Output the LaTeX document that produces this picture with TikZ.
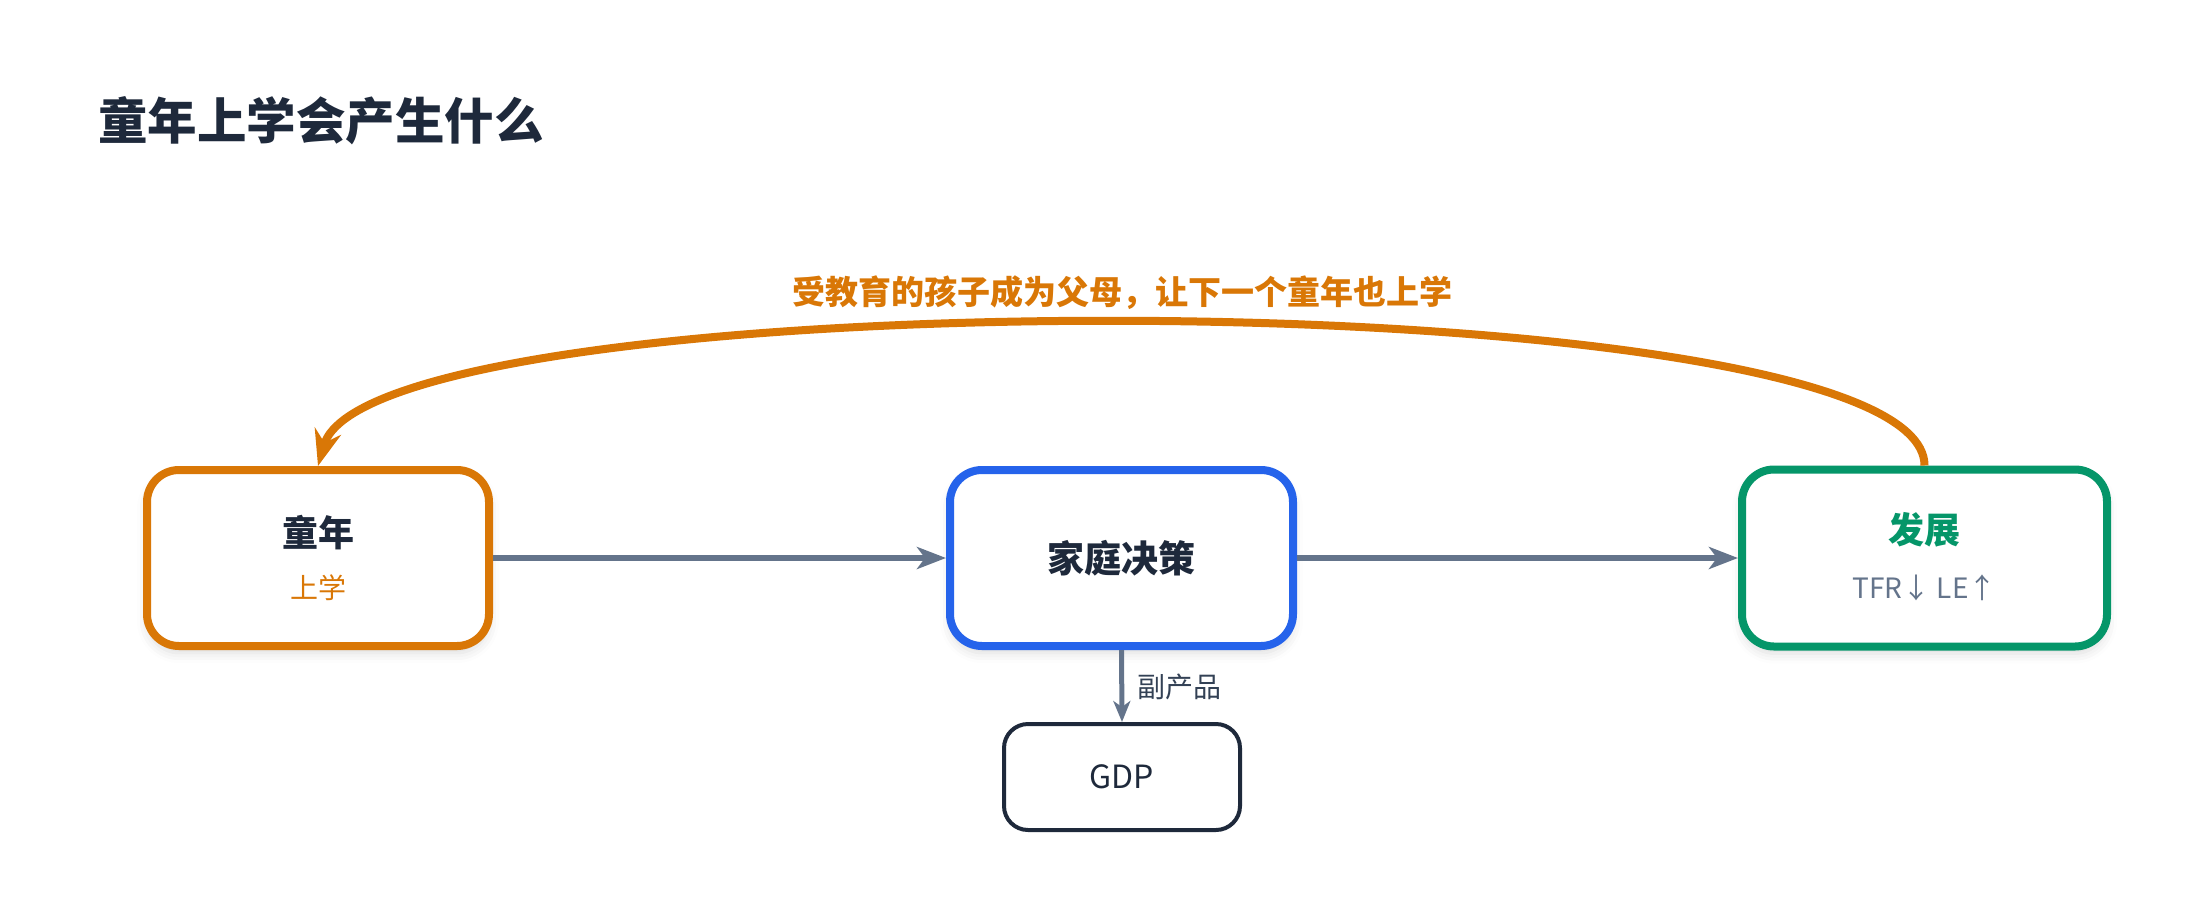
\documentclass[tikz,border=0pt]{standalone}
\usepackage{fontspec}
\setmainfont{Noto Sans CJK SC}
\usetikzlibrary{arrows.meta,shadows.blur}
\definecolor{ink}{HTML}{1E293B}
\definecolor{amber}{HTML}{D97706}
\definecolor{bluec}{HTML}{2563EB}
\definecolor{greenc}{HTML}{059669}
\definecolor{slate}{HTML}{64748B}
\definecolor{labelc}{HTML}{334155}
\begin{document}
\begin{tikzpicture}[x=1pt,y=-1pt,
  box/.style={draw, rounded corners=32pt, fill=white, line width=8pt,
    minimum width=342pt, minimum height=176pt, inner sep=0pt,
    blur shadow={shadow xshift=0pt, shadow yshift=-7pt, shadow blur radius=10pt, shadow opacity=14}},
  gdpbox/.style={draw=ink, rounded corners=24pt, fill=white, line width=4pt,
    minimum width=236pt, minimum height=106pt, inner sep=0pt, text=ink,
    font=\fontsize{32}{36}\selectfont},
  head/.style={text=ink, font=\fontsize{36}{40}\selectfont\bfseries, inner sep=0pt},
  sub/.style={font=\fontsize{28}{32}\selectfont, inner sep=0pt},
  flow/.style={draw=slate, line width=6.5pt, -{Stealth[length=29pt,width=22pt,inset=8pt]}},
  flowv/.style={draw=slate, line width=5pt, -{Stealth[length=21pt,width=17pt,inset=6pt]}},
  loop/.style={draw=amber, line width=8pt, -{Stealth[length=36pt,width=27pt,inset=12pt]}}
]
\useasboundingbox (0,0) rectangle (2195,916);

\node[anchor=west, inner sep=0pt, text=ink, font=\fontsize{49.5}{56}\selectfont\bfseries] (title) at (98,121) {童年上学会产生什么};

\node[box, draw=amber] (child) at (318,558) {};
\node[box, draw=bluec, minimum width=343pt] (family) at (1121.5,558) {};
\node[box, draw=greenc, minimum width=365pt, minimum height=177pt] (dev) at (1924.5,558) {};
\node[gdpbox] (gdp) at (1122,777) {GDP};

\node[head] (childT) at (318,533) {童年};
\node[sub, text=amber] (childS) at (318,588) {上学};
\node[head, font=\fontsize{37}{40}\selectfont\bfseries] (familyT) at (1121.5,558) {家庭决策};
\node[head, text=greenc] (devT) at (1924.5,530) {发展};
\node[sub, text=slate] (devS) at (1924.5,588) {TFR↓ LE↑};

\draw[flow] (child.east) -- (family.west);
\draw[flow] (family.east) -- (dev.west);
\draw[flowv] (family.south) -- (gdp.north);
\node[anchor=west, inner sep=0pt, text=labelc, font=\fontsize{28}{32}\selectfont] (byprod) at (1137,687) {副产品};

\coordinate (c1) at (1924.5,276);
\coordinate (c2) at (372,276);
\draw[loop] (dev.north) .. controls (c1) and (c2) .. (child.north);
\node[inner sep=0pt, text=amber, font=\fontsize{33}{36}\selectfont\bfseries] (loopT) at (1122,293) {受教育的孩子成为父母，让下一个童年也上学};
\end{tikzpicture}
\end{document}
